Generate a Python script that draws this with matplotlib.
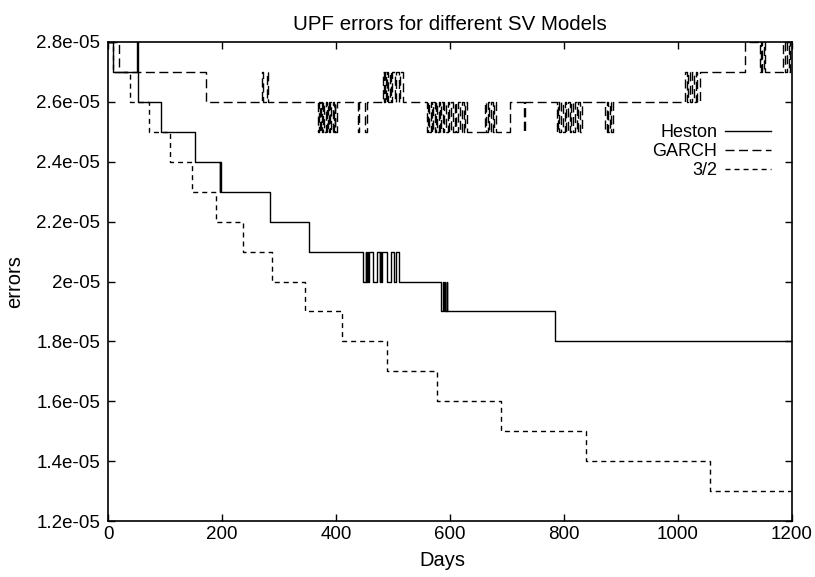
import matplotlib
matplotlib.use("Agg")
import matplotlib.pyplot as plt
import numpy as np

plt.rcParams['font.family'] = ['Liberation Sans', 'DejaVu Sans']

# ---- data (values in units of 1e-5) ----
heston_days = [0, 8, 50, 52, 93, 152, 196, 197, 198, 284, 353,
               448, 452, 453, 455, 456, 458, 465, 472, 477, 478, 479, 480,
               490, 497, 502, 506, 511,
               585, 588, 589, 591, 592, 594, 595, 785, 1200]
heston_vals = [2.8, 2.7, 2.8, 2.6, 2.5, 2.4, 2.3, 2.4, 2.3, 2.2, 2.1,
               2.0, 2.1, 2.0, 2.1, 2.0, 2.1, 2.0, 2.1, 2.0, 2.1, 2.0, 2.1,
               2.0, 2.1, 2.0, 2.1, 2.0,
               1.9, 2.0, 1.9, 2.0, 1.9, 2.0, 1.9, 1.8, 1.8]

garch_days = [0, 20, 172, 270, 272, 279, 281,
              369, 371, 372, 374, 376, 378, 379, 382, 384, 386, 388, 390, 391, 394, 396, 398, 399, 402,
              439, 441, 450, 454,
              483, 485, 486, 488, 490, 492, 494, 497, 499, 503, 506, 510, 513, 518,
              559, 562, 564, 566, 568, 571, 573, 575, 578, 580, 582, 585, 587, 590, 593, 596,
              599, 602, 605, 608, 611, 614, 617, 621, 624, 627, 629,
              661, 664, 667, 669, 672, 675, 678, 680, 684, 705,
              730, 732,
              787, 790, 792, 795, 798, 801, 804, 807, 810, 813, 816, 819, 822, 825, 828, 831,
              872, 875, 877, 880, 882, 886,
              1012, 1015, 1018, 1021, 1025, 1028, 1031, 1034, 1039,
              1118, 1143, 1145, 1148, 1150, 1153, 1185, 1188, 1191, 1194, 1197, 1200]
garch_vals = [2.8, 2.7, 2.6, 2.7, 2.6, 2.7, 2.6,
              2.5, 2.6, 2.5, 2.6, 2.5, 2.6, 2.5, 2.6, 2.5, 2.6, 2.5, 2.6, 2.5, 2.6, 2.5, 2.6, 2.5, 2.6,
              2.5, 2.6, 2.5, 2.6,
              2.7, 2.6, 2.7, 2.6, 2.7, 2.6, 2.7, 2.6, 2.7, 2.6, 2.7, 2.6, 2.7, 2.6,
              2.5, 2.6, 2.5, 2.6, 2.5, 2.6, 2.5, 2.6, 2.5, 2.6, 2.5, 2.6, 2.5, 2.6, 2.5, 2.6,
              2.5, 2.6, 2.5, 2.6, 2.5, 2.6, 2.5, 2.6, 2.5, 2.6, 2.5,
              2.6, 2.5, 2.6, 2.5, 2.6, 2.5, 2.6, 2.5, 2.5, 2.6,
              2.5, 2.6,
              2.5, 2.6, 2.5, 2.6, 2.5, 2.6, 2.5, 2.6, 2.5, 2.6, 2.5, 2.6, 2.5, 2.6, 2.5, 2.6,
              2.5, 2.6, 2.5, 2.6, 2.5, 2.6,
              2.7, 2.6, 2.7, 2.6, 2.7, 2.6, 2.7, 2.6, 2.7,
              2.8, 2.7, 2.8, 2.7, 2.8, 2.7, 2.8, 2.7, 2.8, 2.7, 2.8, 2.8]

threehalf_days = [0, 8, 38, 72, 109, 147, 190, 236, 287, 346, 411, 489, 577, 689, 838, 1056, 1200]
threehalf_vals = [2.8, 2.7, 2.6, 2.5, 2.4, 2.3, 2.2, 2.1, 2.0, 1.9, 1.8, 1.7, 1.6, 1.5, 1.4, 1.3, 1.3]

series_names = ['Heston', 'GARCH', '3/2']
scale = 1e-5

xticks = [0, 200, 400, 600, 800, 1000, 1200]
yticks = [1.2e-05, 1.4e-05, 1.6e-05, 1.8e-05, 2.0e-05, 2.2e-05, 2.4e-05, 2.6e-05, 2.8e-05]
ytick_labels = ['1.2e-05', '1.4e-05', '1.6e-05', '1.8e-05', '2e-05',
                '2.2e-05', '2.4e-05', '2.6e-05', '2.8e-05']

title = 'UPF errors for different SV Models'
xlabel = 'Days'
ylabel = 'errors'

# ---- figure ----
fig = plt.figure(figsize=(8.15, 5.77), dpi=100)
ax = fig.add_axes([108/815, 1-521/577, (792-108)/815, (521-42)/577])

fs_tick = 13.5
fs_lab = 14.5
fs_leg = 13
ax.step(heston_days, np.array(heston_vals)*scale, where='post', color='black',
        lw=1.0, label=series_names[0])
ax.step(garch_days, np.array(garch_vals)*scale, where='post', color='black',
        lw=1.0, dashes=(6.5, 3.2), label=series_names[1])
ax.step(threehalf_days, np.array(threehalf_vals)*scale, where='post', color='black',
        lw=1.0, dashes=(3.6, 2.9), label=series_names[2])

ax.set_xlim(0, 1200)
ax.set_ylim(1.2e-05, 2.8e-05)
ax.set_xticks(xticks)
ax.set_xticklabels([str(t) for t in xticks])
ax.set_yticks(yticks)
ax.set_yticklabels(ytick_labels)
ax.tick_params(direction='in', length=5, width=1.0, top=True, right=True,
               labelsize=fs_tick, colors='black')
ax.tick_params(axis='x', pad=3.5)
ax.tick_params(axis='y', pad=5.5)
for s in ax.spines.values():
    s.set_linewidth(1.2)

ax.set_title(title, fontsize=14.8, pad=9)
ax.set_xlabel(xlabel, fontsize=fs_lab)
ax.xaxis.set_label_coords((442.5-108)/684, -0.062)
ax.set_ylabel(ylabel, fontsize=fs_lab)
ax.yaxis.set_label_coords(-0.123, 0.5)

leg = ax.legend(loc='center right', bbox_to_anchor=(0.970, 0.771),
                markerfirst=False, frameon=False, fontsize=fs_leg,
                handlelength=2.6, handletextpad=0.4, labelspacing=0.1,
                borderpad=0, borderaxespad=0)
for t in leg.get_texts():
    t.set_ha('right')

fig.savefig('out.png', dpi=100)
